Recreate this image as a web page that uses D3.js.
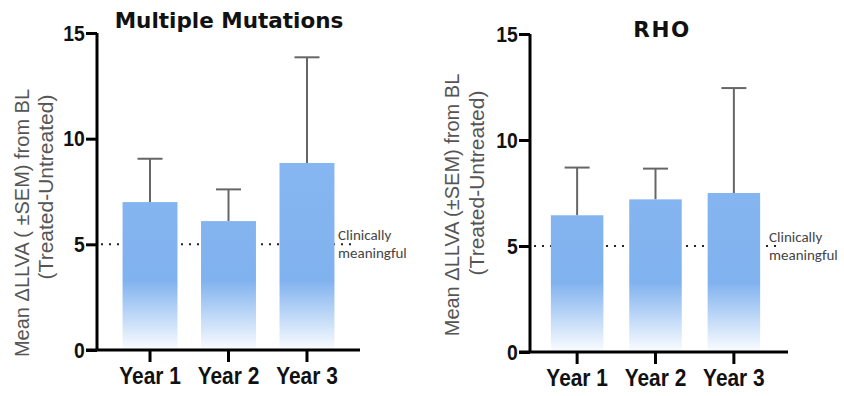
<!DOCTYPE html>
<html>
<head>
<meta charset="utf-8">
<script src="https://cdn.jsdelivr.net/npm/d3@7"></script>
<style>
  body { margin: 0; background: #fff; }
  svg { display: block; }
  .tick text { font-family: "Liberation Sans", Arial, sans-serif; font-weight: bold; fill: #111; }
</style>
</head>
<body>
<script>
// data
var categories = ["Year 1", "Year 2", "Year 3"];
var mmMean = [7.0, 6.1, 8.85];      // Multiple Mutations
var mmSem = [2.05, 1.5, 5.0];
var rhoMean = [6.45, 7.2, 7.5];     // RHO
var rhoSem = [2.25, 1.45, 4.95];
var yTicks = [0, 5, 10, 15];
var threshold = 5;
var thresholdText = ["Clinically", "meaningful"];
var yLabel1 = ["Mean \u0394LLVA ( \u00b1SEM) from BL", "Mean \u0394LLVA (\u00b1SEM)  from BL"];
var yLabel2 = "(Treated-Untreated)";

var W = 844, H = 396;
var svg = d3.select("body").append("svg")
  .attr("width", W)
  .attr("height", H);

var defs = svg.append("defs");

// one config per panel (positions only)
var panels = [
  {id: "mm", title: "Multiple Mutations", titleX: 229, titleY: 28, mean: mmMean, sem: mmSem,
   axisX: 97, y0: 350, y1: 33, xr: [99, 358], pad: 0.3, noteX: 338, spacing: 0,
   lab1: [29, 223], lab2: [53, 187], label1: yLabel1[0]},
  {id: "rho", title: "RHO", titleX: 662, titleY: 37, mean: rhoMean, sem: rhoSem,
   axisX: 530, y0: 352, y1: 34, xr: [525, 786], pad: 0.33, noteX: 769, spacing: 1.5,
   lab1: [459, 205], lab2: [484, 183], label1: yLabel1[1]}
];

panels.forEach(function(p) {
  var g = svg.append("g").attr("class", p.id);

  var y = d3.scaleLinear().domain([0, 15]).range([p.y0, p.y1]);
  var x = d3.scaleBand().domain(categories).range(p.xr).padding(p.pad);

  // gradient fading to white near the bottom
  var grad = defs.append("linearGradient")
    .attr("id", "grad-" + p.id)
    .attr("gradientUnits", "userSpaceOnUse")
    .attr("x1", 0).attr("x2", 0)
    .attr("y1", y(15)).attr("y2", y(0));
  grad.append("stop").attr("offset", 0).attr("stop-color", "#8dbbf4");
  grad.append("stop").attr("offset", (y(3.3) - y(15)) / (y(0) - y(15))).attr("stop-color", "#80b2ef");
  grad.append("stop").attr("offset", 1).attr("stop-color", "#fbfdff");

  // dotted threshold line
  g.append("line")
    .attr("x1", p.axisX + 4).attr("x2", p.xr[1] - 5)
    .attr("y1", y(threshold)).attr("y2", y(threshold))
    .attr("stroke", "#222")
    .attr("stroke-width", 2)
    .attr("stroke-dasharray", "2,6");

  var data = categories.map(function(c, i) { return {cat: c, mean: p.mean[i], sem: p.sem[i]}; });

  // error bars (upper only)
  var eb = g.selectAll("g.err").data(data).enter().append("g").attr("class", "err");
  eb.append("line")
    .attr("x1", d => x(d.cat) + x.bandwidth() / 2)
    .attr("x2", d => x(d.cat) + x.bandwidth() / 2)
    .attr("y1", d => y(d.mean))
    .attr("y2", d => y(d.mean + d.sem))
    .attr("stroke", "#666").attr("stroke-width", 2);
  eb.append("line")
    .attr("x1", d => x(d.cat) + x.bandwidth() / 2 - 12.5)
    .attr("x2", d => x(d.cat) + x.bandwidth() / 2 + 12.5)
    .attr("y1", d => y(d.mean + d.sem))
    .attr("y2", d => y(d.mean + d.sem))
    .attr("stroke", "#666").attr("stroke-width", 2);

  // bars
  g.selectAll("rect.bar").data(data).enter().append("rect")
    .attr("class", "bar")
    .attr("x", d => x(d.cat))
    .attr("width", x.bandwidth())
    .attr("y", d => y(d.mean))
    .attr("height", d => y(0) - y(d.mean))
    .attr("fill", "url(#grad-" + p.id + ")");

  // axes
  var yAxis = g.append("g")
    .attr("transform", "translate(" + p.axisX + ",0)")
    .call(d3.axisLeft(y).tickValues(yTicks).tickSize(11).tickPadding(3));
  yAxis.select(".domain").remove();
  yAxis.append("line")
    .attr("x1", 0).attr("x2", 0)
    .attr("y1", y(0)).attr("y2", y(15))
    .attr("stroke", "#000").attr("stroke-width", 3);
  yAxis.selectAll(".tick line").attr("stroke", "#000").attr("stroke-width", 3);
  yAxis.selectAll(".tick text")
    .style("font-size", "22px")
    .attr("transform", "scale(0.88,1)");

  var xAxis = g.append("g")
    .attr("transform", "translate(0," + y(0) + ")")
    .call(d3.axisBottom(x).tickSize(12).tickPadding(5));
  xAxis.select(".domain").remove();
  xAxis.append("line")
    .attr("x1", p.axisX - 11).attr("x2", p.xr[1] + 2)
    .attr("y1", 0).attr("y2", 0)
    .attr("stroke", "#000").attr("stroke-width", 3);
  xAxis.selectAll(".tick line").attr("stroke", "#000").attr("stroke-width", 3);
  xAxis.selectAll(".tick text")
    .style("font-size", "24px")
    .attr("transform", "scale(0.87,1)");

  // title
  g.append("text")
    .attr("x", p.titleX).attr("y", p.titleY)
    .attr("text-anchor", "middle")
    .style("font-family", "'DejaVu Sans', Verdana, sans-serif")
    .style("font-weight", "bold")
    .style("font-size", "21.5px")
    .style("letter-spacing", p.spacing + "px")
    .attr("fill", "#111")
    .text(p.title);

  // y label (two lines)
  g.append("text")
    .attr("transform", "translate(" + p.lab1[0] + "," + p.lab1[1] + ") rotate(-90)")
    .attr("text-anchor", "middle")
    .style("font-family", "'Liberation Sans', Arial, sans-serif")
    .style("font-size", "20px")
    .attr("fill", "#555")
    .text(p.label1);
  g.append("text")
    .attr("transform", "translate(" + p.lab2[0] + "," + p.lab2[1] + ") rotate(-90)")
    .attr("text-anchor", "middle")
    .style("font-family", "'Liberation Sans', Arial, sans-serif")
    .style("font-size", "21px")
    .attr("fill", "#555")
    .text(yLabel2);

  // threshold note
  g.selectAll("text.note").data(thresholdText).enter().append("text")
    .attr("class", "note")
    .attr("x", p.noteX)
    .attr("y", (d, i) => y(threshold) - 4 + i * 18)
    .style("font-family", "Carlito, Lato, 'Open Sans', sans-serif")
    .style("font-size", "15px")
    .attr("fill", "#444")
    .text(d => d);
});
</script>
</body>
</html>
